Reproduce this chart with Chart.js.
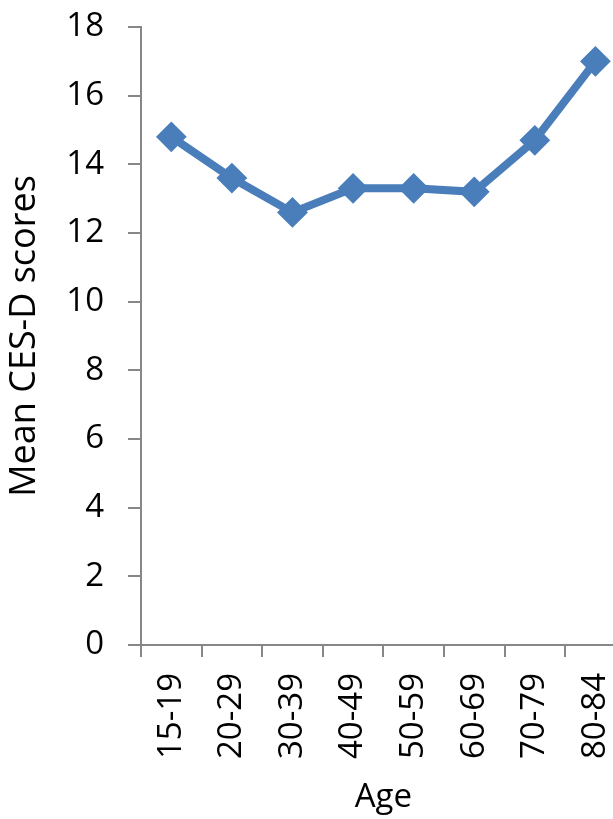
<!DOCTYPE html>
<html>
<head>
<meta charset="utf-8">
<script src="https://cdn.jsdelivr.net/npm/chart.js@4.4.1/dist/chart.umd.min.js"></script>
<style>
  html, body { margin: 0; padding: 0; background: #fff; overflow: hidden; }
  #wrap { width: 652px; height: 819px; }
</style>
</head>
<body>
<div id="wrap"><canvas id="chart" width="652" height="819"></canvas></div>
<script>
// Age groups and mean CES-D depression scores
const ageGroups = ['15-19', '20-29', '30-39', '40-49', '50-59', '60-69', '70-79', '80-84'];
const meanScores = [14.8, 13.6, 12.6, 13.3, 13.3, 13.2, 14.7, 17.0];
const yTicks = [0, 2, 4, 6, 8, 10, 12, 14, 16, 18];

const blue = '#4a7ebb';
const axisGrey = '#878787';
const fontFamily = '"Open Sans", "Liberation Sans", sans-serif';

new Chart(document.getElementById('chart'), {
  type: 'line',
  data: {
    labels: ageGroups,
    datasets: [{
      data: meanScores,
      borderColor: blue,
      backgroundColor: blue,
      borderWidth: 8,
      tension: 0,
      pointStyle: 'rectRot',
      pointRadius: 14,
      pointBorderWidth: 2,
      pointBorderColor: blue,
      pointBackgroundColor: blue,
      fill: false
    }]
  },
  options: {
    responsive: false,
    animation: false,
    layout: { padding: { top: 27, left: 3, right: 0, bottom: 0 } },
    plugins: { legend: { display: false }, tooltip: { enabled: false } },
    scales: {
      x: {
        type: 'category',
        offset: true,
        grid: { drawOnChartArea: false, drawTicks: true, tickLength: 12, color: axisGrey, lineWidth: 2, offset: true },
        border: { display: true, color: axisGrey, width: 2 },
        ticks: {
          minRotation: 90, maxRotation: 90, padding: 16, autoSkip: false,
          color: '#000', font: { family: fontFamily, size: 33 }
        },
        title: {
          display: true, text: 'Age', color: '#000',
          font: { family: fontFamily, size: 33 },
          padding: { top: 0, bottom: 2 }
        },
        afterFit: (scale) => { scale.height = 174; }
      },
      y: {
        min: 0, max: 18,
        afterBuildTicks: (scale) => { scale.ticks = yTicks.map(v => ({ value: v })); },
        grid: { drawOnChartArea: false, drawTicks: true, tickLength: 13, color: axisGrey, lineWidth: 2 },
        border: { display: true, color: axisGrey, width: 2 },
        ticks: { padding: 24, color: '#000', font: { family: fontFamily, size: 33 } },
        title: {
          display: true, text: 'Mean CES-D scores', color: '#000',
          font: { family: fontFamily, size: 36 },
          padding: { top: 0, bottom: 0 }
        },
        afterFit: (scale) => {
          scale.width = 138;
          // the outer padding already leaves room for the end labels
          scale.paddingTop = 0;
          scale.paddingBottom = 0;
        }
      }
    }
  }
});
</script>
</body>
</html>
